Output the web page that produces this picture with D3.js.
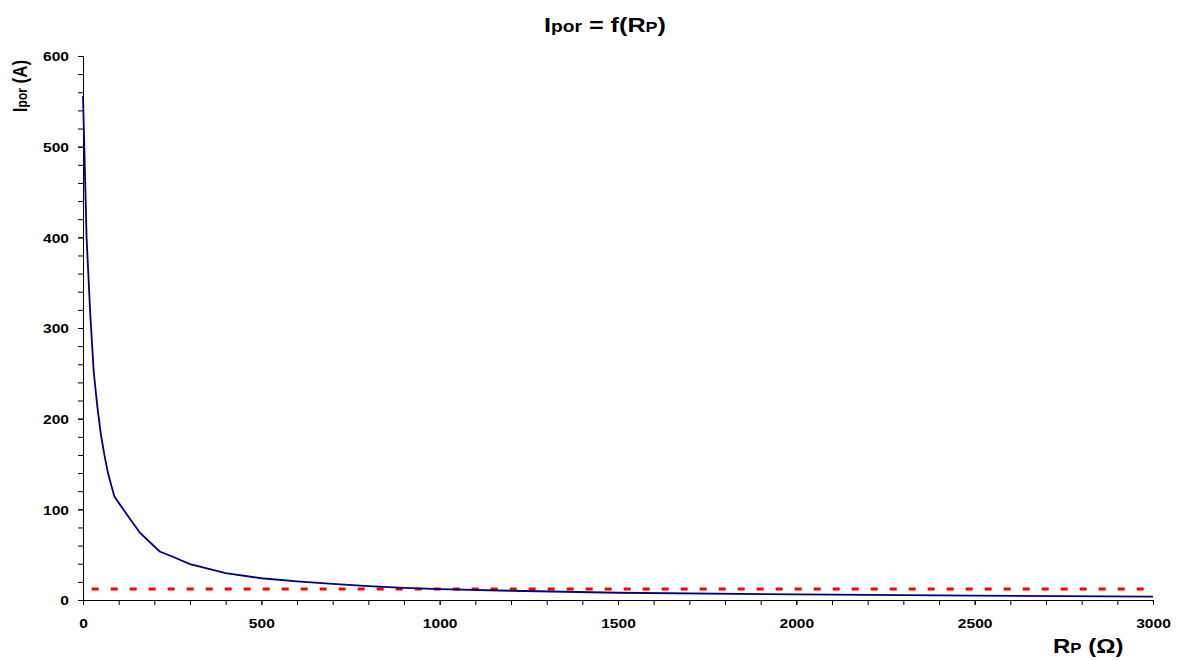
<!DOCTYPE html>
<html>
<head>
<meta charset="utf-8">
<script src="https://cdn.jsdelivr.net/npm/d3@7"></script>
<style>
    body { margin: 0; background: #fff; }
    svg { display: block; font-family: "Liberation Sans", Arial, sans-serif; }
    .axis path, .axis line { stroke: #000; }
    .axis text { font-family: "Liberation Sans", Arial, sans-serif; font-size: 13px; font-weight: bold; fill: #000; }
</style>
</head>
<body>
<svg id="chart" width="1185" height="660"></svg>
<script>
// --- DATA ---
const rp = [0, 10, 20, 30, 40, 50, 60, 70, 88, 120, 160, 215, 250, 300, 400, 500, 600, 700, 800, 900, 1000, 1200, 1500, 2000, 2500, 3000];
const ipor = [556, 400, 318, 252, 214, 183, 160, 140, 114, 96, 74, 53.5, 48, 39.5, 29.7, 24, 20.6, 17.8, 15.3, 13.3, 12.0, 10.2, 8.0, 6.2, 4.8, 3.8];
const limitR = [0, 3000];
const limitI = [12, 12];
const xTicks = [0, 500, 1000, 1500, 2000, 2500, 3000];
const yTicks = [0, 100, 200, 300, 400, 500, 600];

const sx = 1.2; // text in the picture is stretched sideways

const svg = d3.select("#chart");
const x = d3.scaleLinear().domain([0, 3000]).range([83, 1153]);
const y = d3.scaleLinear().domain([0, 600]).range([600, 56]);

// minor ticks
svg.append("g").attr("class", "axis").attr("transform", "translate(0,600)")
    .call(d3.axisBottom(x).tickValues(d3.range(0, 3001, 100)).tickSize(5).tickFormat(""));
svg.append("g").attr("class", "axis").attr("transform", "translate(83,0)")
    .call(d3.axisLeft(y).tickValues(d3.range(0, 601, 20)).tickSize(5).tickFormat(""));

// major ticks + labels
const xAxis = svg.append("g").attr("class", "axis").attr("transform", "translate(0,600)")
    .call(d3.axisBottom(x).tickValues(xTicks).tickSize(5).tickSizeOuter(0).tickFormat(d3.format("d")));
xAxis.selectAll("text").attr("y", 28).attr("dy", 0).attr("transform", `scale(${sx},1)`);

const yAxis = svg.append("g").attr("class", "axis").attr("transform", "translate(83,0)")
    .call(d3.axisLeft(y).tickValues(yTicks).tickSize(5).tickSizeOuter(0).tickFormat(d3.format("d")));
yAxis.selectAll("text").attr("x", -14 / sx).attr("dy", "0.38em").attr("transform", `scale(${sx},1)`);

// red limit line
svg.append("path")
    .datum(d3.zip(limitR, limitI))
    .attr("fill", "none").attr("stroke", "#ff0000").attr("stroke-width", 3)
    .attr("stroke-dasharray", "7,12").attr("stroke-dashoffset", 10.3)
    .attr("d", d3.line().x(d => x(d[0])).y(d => y(d[1])));

// Ipor curve
svg.append("path")
    .datum(d3.zip(rp, ipor))
    .attr("fill", "none").attr("stroke", "#000080").attr("stroke-width", 1.8)
    .attr("d", d3.line().x(d => x(d[0])).y(d => y(d[1])));

// text helper: main text plus small "subscript" part
function label(tx, ty, rot, parts, anchor) {
    const g = svg.append("g").attr("transform", `translate(${tx},${ty}) scale(${sx},1) rotate(${rot})`);
    const t = g.append("text").attr("text-anchor", anchor).attr("font-weight", "bold").attr("fill", "#000");
    parts.forEach(p => t.append("tspan").attr("font-size", p[1] + "px").text(p[0]));
    return t;
}

label(605, 32, 0, [["I", 21], ["por", 16], [" = f(R", 21], ["P", 15], [")", 21]], "middle");
label(27, 86, -90, [["I", 17], ["por", 12], [" (A)", 17]], "middle");
label(1053, 653, 0, [["R", 20], ["P", 14], [" (Ω)", 20]], "start");
</script>
</body>
</html>
